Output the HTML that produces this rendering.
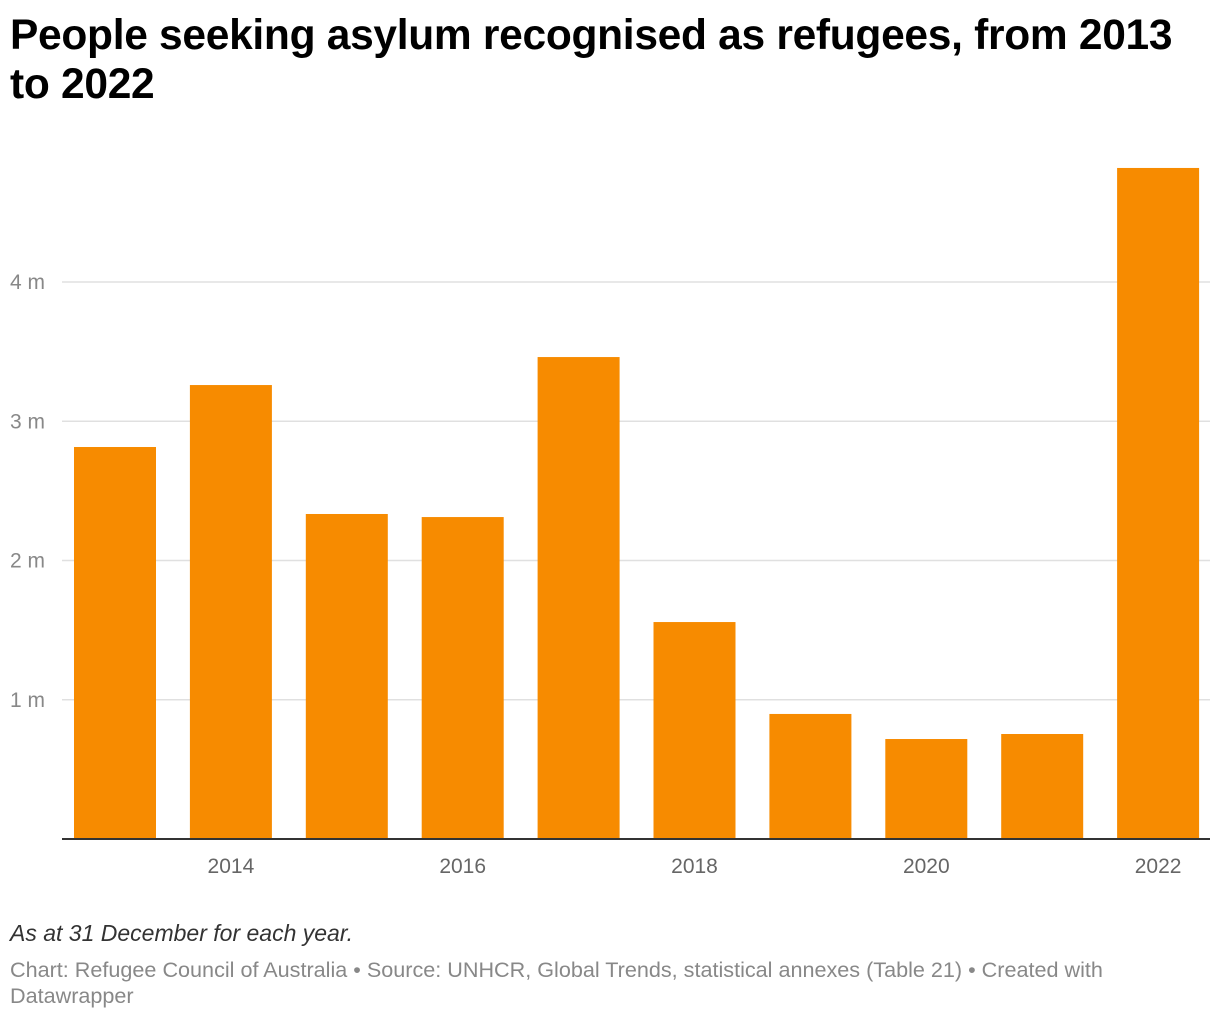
<!DOCTYPE html>
<html><head><meta charset="utf-8">
<style>
body{margin:0;width:1220px;height:1020px;background:#fff;font-family:"Liberation Sans",Arial,sans-serif;overflow:hidden;position:relative}
#title{position:absolute;left:10px;top:11px;width:1190px;font-size:42.5px;font-weight:bold;line-height:49px;color:#000;margin:0;letter-spacing:-0.3px}
#note{position:absolute;left:10px;top:920px;font-size:23px;font-style:italic;color:#333}
#source{position:absolute;left:10px;top:957px;width:1160px;font-size:21.6px;line-height:26px;color:#888}
svg{position:absolute;left:0;top:0}
</style></head><body>
<h1 id="title">People seeking asylum recognised as refugees, from 2013 to 2022</h1>
<svg id="chart" width="1220" height="900"></svg>
<div id="note">As at 31 December for each year.</div>
<div id="source">Chart: Refugee Council of Australia • Source: UNHCR, Global Trends, statistical annexes (Table 21) • Created with Datawrapper</div>
<script>
const years=[2013,2014,2015,2016,2017,2018,2019,2020,2021,2022];
const values=[2.815,3.26,2.334,2.312,3.461,1.558,0.898,0.718,0.754,4.819];
const yTicks=[1,2,3,4];
const xLabels=[2014,2016,2018,2020,2022];
const NS="http://www.w3.org/2000/svg";
const svg=document.getElementById('chart');
const base=839,ppm=139.25,left=62,right=1210,x0=74,step=115.9,bw=82;
const y=v=>base-v*ppm;
const x=i=>x0+i*step;
function mk(t,a){const e=document.createElementNS(NS,t);for(const k in a)e.setAttribute(k,a[k]);svg.appendChild(e);return e;}
yTicks.forEach(t=>{
 const l=mk('line',{x1:left,x2:right,y1:y(t),y2:y(t),stroke:'#e0e0e0','stroke-width':1.5});
 
 
 const tx=mk('text',{x:10,y:y(t)+7,'font-size':21,fill:'#888','font-family':'Liberation Sans, sans-serif'});
 tx.textContent=t+' m';
 
 
});
values.forEach((v,i)=>{
 const r=mk('rect',{x:x(i),y:y(v),width:bw,height:base-y(v),fill:'#f78b00'});
 
 
});
const ax=mk('line',{x1:left,x2:right,y1:base,y2:base,stroke:'#333','stroke-width':2});


xLabels.forEach(yr=>{
 const i=years.indexOf(yr);
 const tx=mk('text',{x:x(i)+bw/2,y:873,'font-size':21,fill:'#666','text-anchor':'middle','font-family':'Liberation Sans, sans-serif'});
 tx.textContent=yr;
 
 
});
</script>
</body></html>
